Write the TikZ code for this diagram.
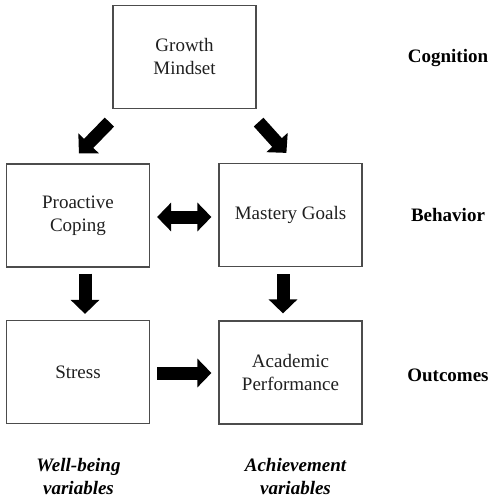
\documentclass[tikz,border=0pt]{standalone}
\usepackage{fontspec}
\setmainfont{Liberation Serif}
\usepackage{tikz}
\usetikzlibrary{positioning, arrows.meta}

\newcommand{\mainsize}{\fontsize{19}{23}\selectfont}

\begin{document}
\begin{tikzpicture}[x=1pt, y=-1pt,
  box/.style={draw=black!70, line width=1.2pt, minimum width=143pt, minimum height=103pt, align=center, text=black!88, font=\mainsize},
  blockarrow/.style={line width=13pt, -{Triangle[width=28pt,length=14pt]}},
  level/.style={font=\mainsize\bfseries},
  group/.style={font=\mainsize\bfseries\itshape, align=center}]
  \useasboundingbox (0,0) rectangle (495,500);

  % boxes
  \node[box] (gm) at (184.5,57) {Growth\\Mindset};
  \node[box] (pc) at (78,215.5) {Proactive\\Coping};
  \node[box] (mg) at (290.5,215) {Mastery Goals};
  \node[box] (st) at (78,372) {Stress};
  \node[box] (ap) at (290.5,372.5) {Academic\\Performance};

  % row labels
  \node[level] (cog) at (448,58) {Cognition};
  \node[level] (beh) at (448,215) {Behavior};
  \node[level] (out) at (448,375) {Outcomes};

  % column labels
  \node[group] (wb) at (78.5,477) {Well-being\\variables};
  \node[group] (ach) at (295.5,477) {Achievement\\variables};

  % arrows
  \draw[blockarrow] ([shift={(-3,13)}]gm.south west) -- ([shift={(73,-10)}]pc.north west);
  \draw[blockarrow] ([shift={(2,13)}]gm.south east) -- ([shift={(68,-10)}]mg.north west);
  \draw[line width=13pt, {Triangle[width=28pt,length=14pt]}-{Triangle[width=28pt,length=14pt]}] ([shift={(7,1.5)}]pc.east) -- ([shift={(-7,2)}]mg.west);
  \draw[blockarrow] ([shift={(7,6)}]pc.south) -- ([shift={(7,-6)}]st.north);
  \draw[blockarrow] ([shift={(-7.5,7)}]mg.south) -- ([shift={(-7.5,-7)}]ap.north);
  \draw[blockarrow] ([shift={(7,1)}]st.east) -- ([shift={(-7,0.5)}]ap.west);
\end{tikzpicture}
\end{document}
